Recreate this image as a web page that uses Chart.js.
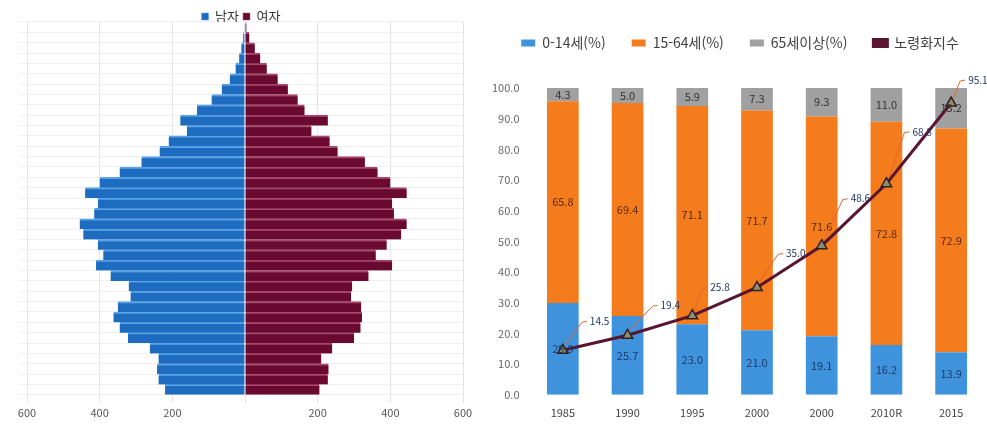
<!DOCTYPE html>
<html lang="ko">
<head>
<meta charset="utf-8">
<script src="https://cdn.jsdelivr.net/npm/chart.js@4.4.0/dist/chart.umd.min.js"></script>
<style>
  html, body { margin: 0; padding: 0; background: #fff; overflow: hidden; }
  #wrap { position: relative; width: 987px; height: 424px; overflow: hidden; }
  #left { position: absolute; left: 0; top: 0; width: 480px; height: 424px; }
  #right { position: absolute; left: 483px; top: 0; width: 508px; height: 424px; }
</style>
</head>
<body>
<div id="wrap">
  <div id="left"><canvas id="pyramidChart"></canvas></div>
  <div id="right"><canvas id="ageChart"></canvas></div>
</div>
<script>
// population pyramid, youngest band first (thousands)
const ageBands = ['0', '3', '6', '9', '12', '15', '18', '21', '24', '27', '30', '33',
  '36', '39', '42', '45', '48', '51', '54', '57', '60', '63', '66', '69',
  '72', '75', '78', '81', '84', '87', '90', '93', '96', '99', '102', '105'];
const male = [220, 238, 242, 238, 262, 322, 345, 362, 350, 315, 320, 370,
  410, 390, 405, 445, 455, 415, 405, 440, 400, 345, 285, 235,
  210, 160, 178, 132, 92, 64, 42, 26, 16, 10, 5, 2];
const female = [205, 228, 230, 210, 240, 300, 318, 322, 320, 292, 295, 340,
  405, 360, 390, 430, 445, 410, 405, 445, 400, 365, 330, 255,
  233, 183, 228, 164, 145, 118, 90, 60, 42, 27, 12, 4];

// age structure by year
const years = ['1985', '1990', '1995', '2000', '2000', '2010R', '2015'];
const age0to14 = [29.9, 25.7, 23.0, 21.0, 19.1, 16.2, 13.9];
const age15to64 = [65.8, 69.4, 71.1, 71.7, 71.6, 72.8, 72.9];
const age65plus = [4.3, 5.0, 5.9, 7.3, 9.3, 11.0, 13.2];
const agingIndex = [14.5, 19.4, 25.8, 35.0, 48.6, 68.8, 95.1];

Chart.defaults.font.family = "'Noto Sans CJK KR', 'Noto Sans', sans-serif";
Chart.defaults.animation = false;
Chart.defaults.maintainAspectRatio = false;

// let the pyramid legend sit a little over the top of the plot
const legendOverlap = {
    id: 'legendOverlap',
    beforeInit(chart) {
        const fit = chart.legend.fit;
        chart.legend.fit = function () {
            fit.bind(chart.legend)();
            this.height = 16;
        };
    },
};

new Chart(document.getElementById('pyramidChart'), {
    type: 'bar',
    data: {
        labels: ageBands,
        datasets: [{
            label: '남자',
            data: male.map(v => -v),
            backgroundColor: '#1d6cbf',
            borderColor: '#5ba3e6',
            borderWidth: { top: 2, bottom: 0, left: 0, right: 0 },
            borderSkipped: false,
            barPercentage: 1,
            categoryPercentage: 1,
        }, {
            label: '여자',
            data: female,
            backgroundColor: '#6a0a31',
            borderColor: '#a8486b',
            borderWidth: { top: 2, bottom: 0, left: 0, right: 0 },
            borderSkipped: false,
            barPercentage: 1,
            categoryPercentage: 1,
        }],
    },
    options: {
        indexAxis: 'y',
        layout: { padding: { left: 19, right: 17, top: 6, bottom: 2 } },
        plugins: {
            legend: {
                position: 'top',
                labels: {
                    boxWidth: 7,
                    boxHeight: 7,
                    padding: 4,
                    color: '#333',
                    font: { size: 13 },
                },
            },
            tooltip: { enabled: false },
        },
        scales: {
            x: {
                stacked: true,
                min: -600,
                max: 600,
                ticks: {
                    stepSize: 200,
                    color: '#555',
                    font: { size: 11 },
                    callback: v => v === 0 ? '' : Math.abs(v),
                },
                grid: { color: '#e3e3e3' },
                border: { display: false },
            },
            y: {
                stacked: true,
                reverse: true,
                ticks: { display: false },
                grid: { color: '#f0f0f0' },
                border: { display: false },
            },
        },
    },
    plugins: [legendOverlap],
});

const legendMargin = {
    id: 'legendMargin',
    beforeInit(chart) {
        const fit = chart.legend.fit;
        chart.legend.fit = function () {
            fit.bind(chart.legend)();
            this.height += 28;
        };
    },
};

const valueLabels = {
    id: 'valueLabels',
    afterDatasetsDraw(chart, args, opts) {
        const ctx = chart.ctx;
        ctx.save();
        ctx.textAlign = 'center';
        ctx.textBaseline = 'middle';
        ctx.font = "11px 'Noto Sans CJK KR', sans-serif";
        chart.data.datasets.forEach((ds, di) => {
            if (ds.type === 'line') return;
            chart.getDatasetMeta(di).data.forEach((bar, i) => {
                ctx.fillStyle = ds.labelColor;
                ctx.fillText(ds.data[i].toFixed(1), bar.x, (bar.y + bar.base) / 2);
            });
        });
        const li = chart.data.datasets.findIndex(ds => ds.type === 'line');
        chart.getDatasetMeta(li).data.forEach((pt, i) => {
            const [dx, dy] = opts.offsets[i];
            ctx.strokeStyle = '#e8632b';
            ctx.lineWidth = 1;
            ctx.beginPath();
            ctx.moveTo(pt.x + 2, pt.y - 5);
            ctx.lineTo(pt.x + dx - 8, pt.y + dy + 1);
            ctx.lineTo(pt.x + dx - 3, pt.y + dy);
            ctx.stroke();
            ctx.textAlign = 'left';
            ctx.fillStyle = '#1f3864';
            ctx.font = "10px 'Noto Sans CJK KR', sans-serif";
            ctx.fillText(agingIndex[i].toFixed(1), pt.x + dx, pt.y + dy);
        });
        ctx.restore();
    },
};

new Chart(document.getElementById('ageChart'), {
    type: 'bar',
    data: {
        labels: years,
        datasets: [{
            label: '0-14세(%)',
            data: age0to14,
            backgroundColor: '#3f93dd',
            labelColor: '#1c3a66',
            stack: 'pct',
            order: 1,
        }, {
            label: '15-64세(%)',
            data: age15to64,
            backgroundColor: '#f47c1c',
            labelColor: '#5a2a08',
            stack: 'pct',
            order: 1,
        }, {
            label: '65세이상(%)',
            data: age65plus,
            backgroundColor: '#a0a0a0',
            labelColor: '#333',
            stack: 'pct',
            order: 1,
        }, {
            type: 'line',
            label: '노령화지수',
            data: agingIndex,
            borderColor: '#5a1531',
            backgroundColor: '#5a1531',
            borderWidth: 3,
            pointStyle: 'triangle',
            pointRadius: 6,
            pointBackgroundColor: '#8e8b6e',
            pointBorderColor: '#2e2020',
            pointBorderWidth: 1.5,
            stack: 'line',
            order: 0,
        }],
    },
    options: {
        layout: { padding: { left: 6, right: 0, top: 10, bottom: 2 } },
        datasets: { bar: { barPercentage: 0.49, categoryPercentage: 1 } },
        plugins: {
            legend: {
                position: 'top',
                labels: {
                    boxWidth: 14,
                    boxHeight: 7,
                    padding: 26,
                    color: '#404040',
                    font: { size: 14 },
                    sort: (a, b) => a.datasetIndex - b.datasetIndex,
                },
            },
            tooltip: { enabled: false },
            valueLabels: {
                offsets: [[27, -29], [33, -30], [18, -28], [29, -34], [29, -47], [26, -52], [17, -23]],
            },
        },
        scales: {
            x: {
                stacked: true,
                grid: { display: false },
                border: { display: false },
                ticks: { color: '#444', font: { size: 11 } },
            },
            y: {
                stacked: true,
                min: 0,
                max: 100,
                ticks: {
                    stepSize: 10,
                    color: '#666',
                    font: { size: 11 },
                    callback: v => v.toFixed(1),
                },
                grid: { display: false },
                border: { display: false },
            },
        },
    },
    plugins: [legendMargin, valueLabels],
});
</script>
</body>
</html>
